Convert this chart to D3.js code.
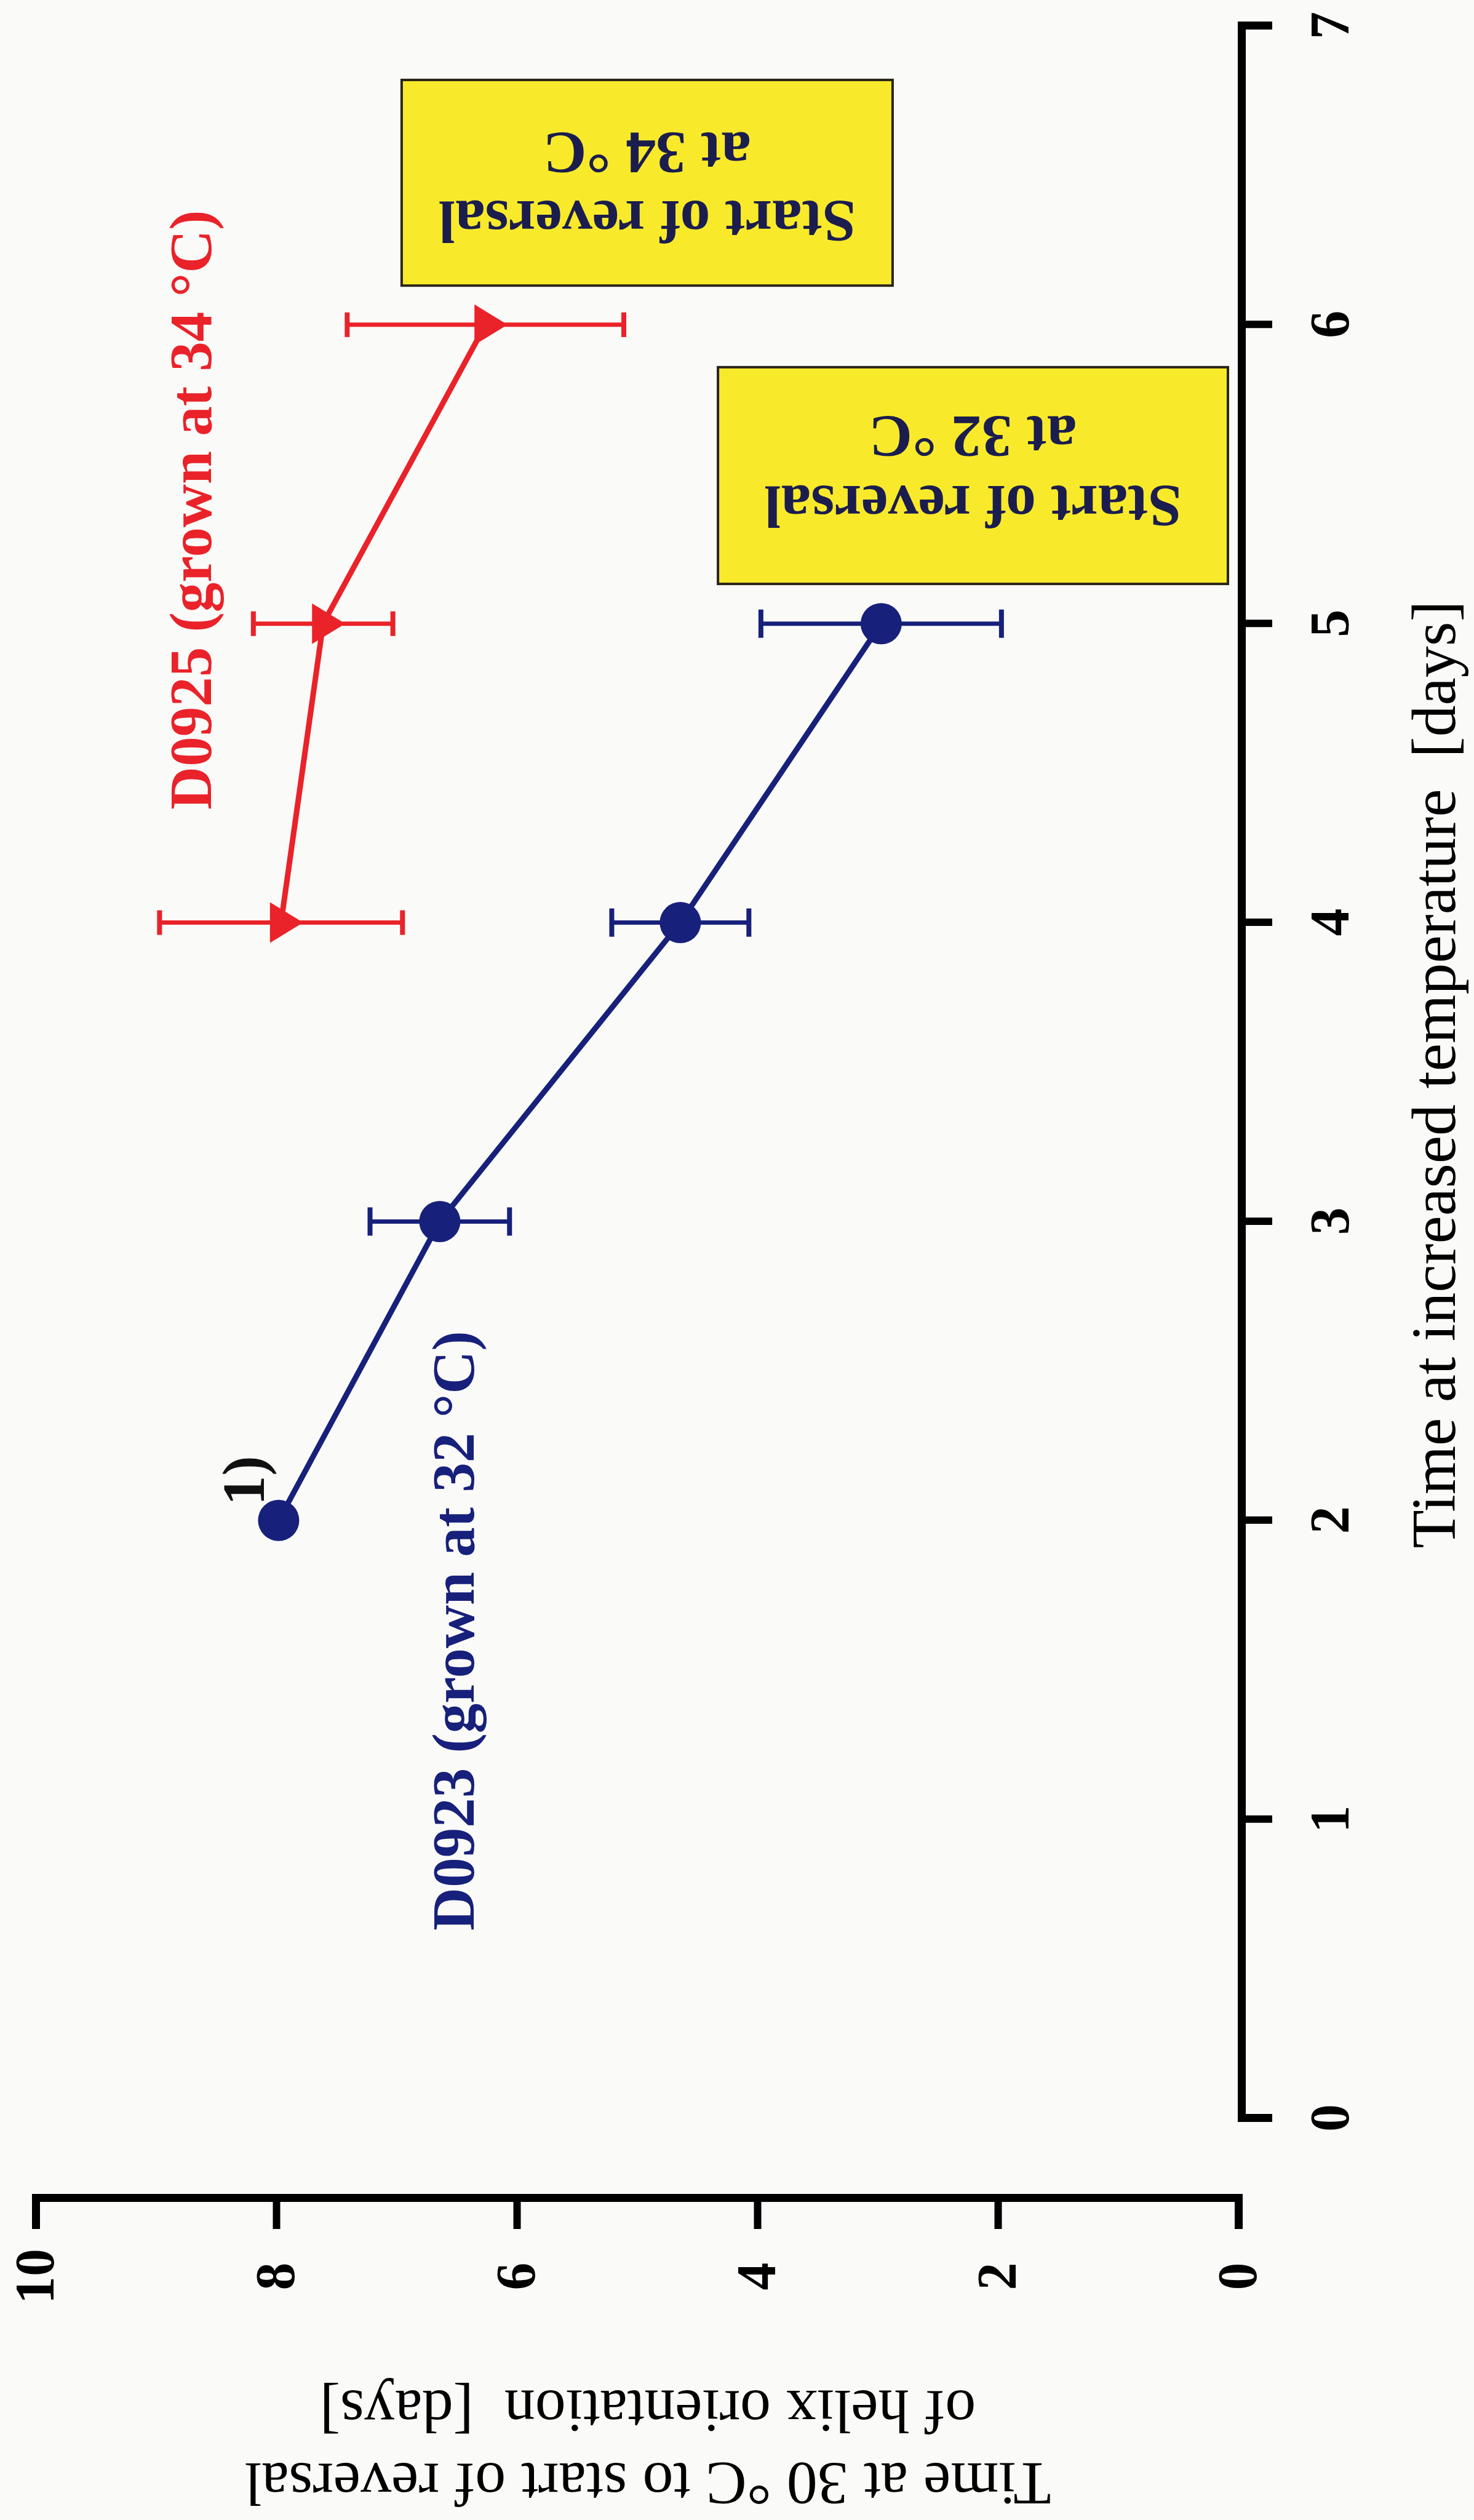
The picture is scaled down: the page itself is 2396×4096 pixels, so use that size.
<!DOCTYPE html>
<html><head><meta charset="utf-8">
<script src="https://cdn.jsdelivr.net/npm/d3@7"></script>
<style>
html,body{margin:0;padding:0;background:#fafaf8;}
svg{display:block;}
</style></head>
<body>
<svg id="chart" width="2396" height="4096"></svg>
<script>
// ---- data ----
const xTicks = [0, 1, 2, 3, 4, 5, 6, 7];
const yTicks = [0, 2, 4, 6, 8, 10];
const blueX = [2, 3, 4, 5];
const blueY = [7.98, 6.64, 4.64, 2.97];
const blueErr = [null, 0.58, 0.57, 1.0];
const redX = [4, 5, 6];
const redY = [7.96, 7.61, 6.26];
const redErr = [1.01, 0.58, 1.15];
const xTitle = "Time at increased temperature\u00A0\u00A0[days]";
const yTitleLines = ["Time at 30 \u00B0C to start of reversal", "of helix orientation\u00A0\u00A0[days]"];
const blueLabel = "D0923 (grown at 32 \u00B0C)";
const redLabel = "D0925 (grown at 34 \u00B0C)";
const boxLines = [["Start of reversal", "at 32 \u00B0C"], ["Start of reversal", "at 34 \u00B0C"]];
const noteText = "1)";

// ---- layout (annotation anchors in data space) ----
const boxX0 = [5.133, 6.131], boxX1 = [5.858, 6.819];
const boxY0 = [0.087, 2.875], boxY1 = [4.327, 6.957];
const boxLineX = [[5.460, 5.693], [6.413, 6.642]];
const blueLabelPos = [0.628, 6.36];
const redLabelPos = [4.378, 8.54];
const notePos = [2.05, 8.10];

const W = 2396, H = 4096;
const FONT = "'Liberation Serif', 'Times New Roman', serif";
const BLUE = "#17207a", RED = "#ea2229", YEL = "#f8ea2a", BOXTXT = "#1b1d4f";

const svg = d3.select("#chart");
svg.append("rect").attr("width", W).attr("height", H).attr("fill", "#fafaf8");

// whole chart drawn in its own frame, then turned a quarter turn counter-clockwise
const g = svg.append("g").attr("transform", `translate(0,${H}) rotate(-90)`);

const x = d3.scaleLinear().domain([0, 7]).range([653, 4054]);
const y = d3.scaleLinear().domain([0, 10]).range([2013, 58]);

// x axis
const xAxisG = g.append("g").attr("transform", "translate(0,2018)")
  .call(d3.axisBottom(x).tickValues(xTicks).tickSize(50).tickSizeOuter(50).tickFormat(d3.format("d")));
xAxisG.attr("font-family", FONT).attr("font-size", 90).attr("font-weight", "bold");
xAxisG.select(".domain").attr("stroke", "#000").attr("stroke-width", 13).attr("fill", "none").attr("stroke-linejoin", "miter");
xAxisG.selectAll(".tick line").attr("stroke", "#000").attr("stroke-width", 12);
xAxisG.selectAll(".tick text").attr("y", 174).attr("dy", "0").attr("fill", "#000");

// y axis
const yAxisG = g.append("g").attr("transform", "translate(523,0)")
  .call(d3.axisLeft(y).tickValues(yTicks).tickSize(50).tickSizeOuter(50).tickFormat(d3.format("d")));
yAxisG.attr("font-family", FONT).attr("font-size", 90).attr("font-weight", "bold");
yAxisG.select(".domain").attr("stroke", "#000").attr("stroke-width", 13).attr("fill", "none").attr("stroke-linejoin", "miter");
yAxisG.selectAll(".tick line").attr("stroke", "#000").attr("stroke-width", 12);
yAxisG.selectAll(".tick text").attr("x", -127).attr("text-anchor", "middle").attr("fill", "#000");

// axis titles
g.append("text").attr("x", (x(0) + x(7)) / 2 - 4).attr("y", 2365)
  .attr("text-anchor", "middle").attr("font-family", FONT).attr("font-size", 102)
  .attr("fill", "#000").text(xTitle);
const yTitleU = [92, 210];
yTitleLines.forEach((t, i) => {
  g.append("text").attr("transform", `translate(${yTitleU[i]},1053) rotate(-90)`)
    .attr("text-anchor", "middle").attr("font-family", FONT).attr("font-size", 100)
    .attr("fill", "#000").text(t);
});

// yellow boxes
boxLines.forEach((lines, i) => {
  g.append("rect")
    .attr("x", x(boxX0[i])).attr("y", y(boxY1[i]))
    .attr("width", x(boxX1[i]) - x(boxX0[i])).attr("height", y(boxY0[i]) - y(boxY1[i]))
    .attr("fill", YEL).attr("stroke", "#2a2418").attr("stroke-width", 4);
  const vc = (y(boxY0[i]) + y(boxY1[i])) / 2;
  lines.forEach((t, j) => {
    g.append("text").attr("transform", `translate(${x(boxLineX[i][j])},${vc}) rotate(-90)`)
      .attr("text-anchor", "middle").attr("font-family", FONT).attr("font-size", 98)
      .attr("font-weight", "bold").attr("fill", BOXTXT).text(t);
  });
});

// series
function drawSeries(xs, ys, es, color, capW) {
  const pts = xs.map((d, i) => ({ x: d, y: ys[i], e: es[i] }));
  g.append("path").datum(pts)
    .attr("d", d3.line().x(d => x(d.x)).y(d => y(d.y)))
    .attr("fill", "none").attr("stroke", color).attr("stroke-width", 9).attr("stroke-linejoin", "round");
  const eb = g.append("g").attr("stroke", color).attr("stroke-width", 7);
  pts.filter(d => d.e != null).forEach(d => {
    eb.append("line").attr("x1", x(d.x)).attr("x2", x(d.x)).attr("y1", y(d.y - d.e)).attr("y2", y(d.y + d.e));
    [d.y - d.e, d.y + d.e].forEach(v => {
      eb.append("line").attr("x1", x(d.x) - capW / 2).attr("x2", x(d.x) + capW / 2)
        .attr("y1", y(v)).attr("y2", y(v)).attr("stroke-width", 8);
    });
  });
  return pts;
}
const bluePts = drawSeries(blueX, blueY, blueErr, BLUE, 46);
const redPts = drawSeries(redX, redY, redErr, RED, 40);

g.selectAll("circle.blue").data(bluePts).join("circle").attr("class", "blue")
  .attr("cx", d => x(d.x)).attr("cy", d => y(d.y)).attr("r", 33.5).attr("fill", BLUE);
g.selectAll("path.red").data(redPts).join("path").attr("class", "red")
  .attr("transform", d => `translate(${x(d.x)},${y(d.y)})`)
  .attr("d", "M-33,-18L33,-18L0,36Z").attr("fill", RED);

// labels
g.append("text").attr("x", x(blueLabelPos[0])).attr("y", y(blueLabelPos[1]))
  .attr("font-family", FONT).attr("font-size", 97).attr("font-weight", "bold").attr("fill", BLUE).text(blueLabel);
g.append("text").attr("x", x(redLabelPos[0])).attr("y", y(redLabelPos[1]))
  .attr("font-family", FONT).attr("font-size", 97).attr("font-weight", "bold").attr("fill", RED).text(redLabel);
g.append("text").attr("x", x(notePos[0])).attr("y", y(notePos[1]))
  .attr("font-family", FONT).attr("font-size", 97).attr("font-weight", "bold").attr("fill", "#111").text(noteText);
</script>
</body></html>
